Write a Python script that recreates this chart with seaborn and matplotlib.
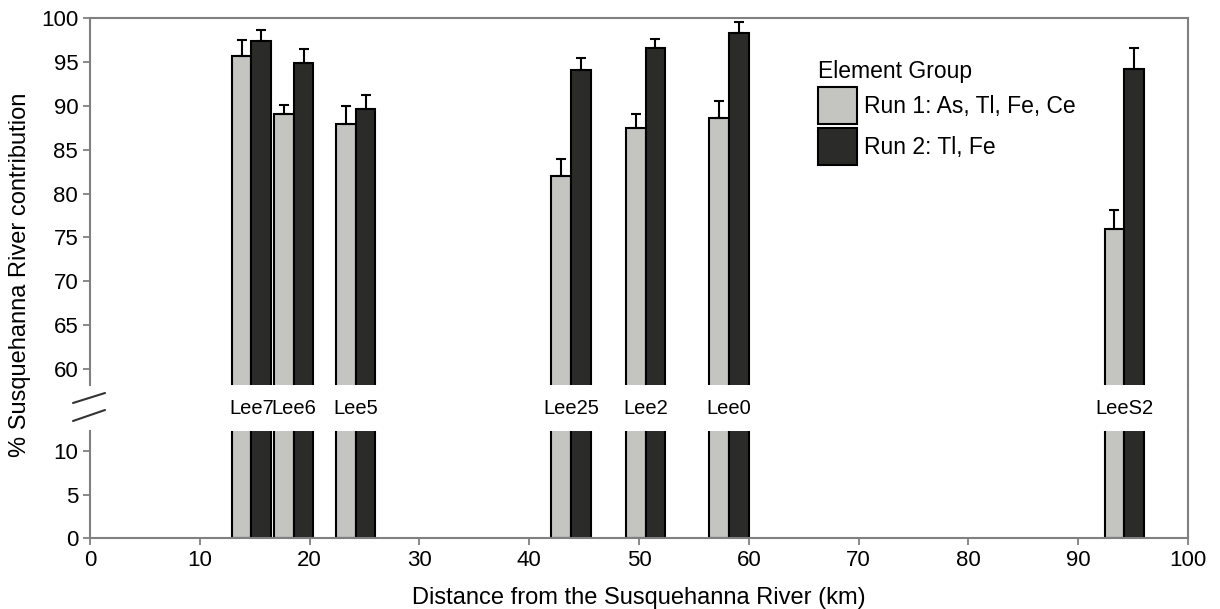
import numpy as np
import pandas as pd
import matplotlib
matplotlib.use("Agg")
import matplotlib.pyplot as plt
import matplotlib.transforms as mtransforms
from matplotlib.lines import Line2D
from matplotlib.patches import Patch
import seaborn as sns

# ---------------- data ----------------
sites = ["Lee7", "Lee6", "Lee5", "Lee25", "Lee2", "Lee0", "LeeS2"]
distance_km = [14.7, 18.55, 24.2, 43.8, 50.6, 58.2, 94.2]
run_labels = ["Run 1: As, Tl, Fe, Ce", "Run 2: Tl, Fe"]
run1_pct = [95.7, 89.1, 87.9, 82.0, 87.5, 88.6, 76.0]
run1_err = [1.8, 1.0, 2.1, 1.9, 1.6, 1.9, 2.1]
run2_pct = [97.4, 94.9, 89.6, 94.1, 96.6, 98.3, 94.2]
run2_err = [1.2, 1.6, 1.6, 1.3, 1.0, 1.3, 2.4]
x_ticks = list(range(0, 101, 10))
upper_yticks = list(range(60, 101, 5))
lower_yticks = [0, 5, 10]

sns.set_style("ticks")
plt.rcParams["font.family"] = ["Liberation Sans", "DejaVu Sans"]
plt.rcParams["text.color"] = "black"
plt.rcParams["axes.labelcolor"] = "black"

df = pd.DataFrame({
    "site": sites * 2,
    "distance": distance_km * 2,
    "run": [run_labels[0]] * len(sites) + [run_labels[1]] * len(sites),
    "pct": run1_pct + run2_pct,
    "err": run1_err + run2_err,
})

colors = ["#c4c5c0", "#2b2c2a"]
spine_col = "#808080"
W, H = 1220, 609
fig = plt.figure(figsize=(W / 100, H / 100), dpi=100)


def fr(x0, y0, x1, y1):
    return [x0 / W, 1 - y1 / H, (x1 - x0) / W, (y1 - y0) / H]


ax_up = fig.add_axes(fr(90, 18, 1188, 385))
ax_lo = fig.add_axes(fr(90, 431, 1188, 538))

for ax in (ax_up, ax_lo):
    sns.barplot(data=df, x="distance", y="pct", hue="run", hue_order=run_labels,
                palette=colors, native_scale=True, width=0.935, errorbar=None,
                edgecolor="black", linewidth=1.5, legend=False, ax=ax, zorder=2)
    for cont, lab in zip(ax.containers, run_labels):
        sub = df[df.run == lab].sort_values("distance")
        bars = sorted(cont.patches, key=lambda p: p.get_x())
        xs = [b.get_x() + b.get_width() / 2 for b in bars]
        hs = [b.get_height() for b in bars]
        ax.errorbar(xs, hs, yerr=[np.zeros(len(sub)), sub["err"].values], fmt="none",
                    ecolor="black", elinewidth=1.5, capsize=3.5, capthick=1.5, zorder=3)
    ax.set_xlim(0, 100)
    ax.set_xlabel("")
    ax.set_ylabel("")
    for s in ax.spines.values():
        s.set_color(spine_col)
        s.set_linewidth(1.5)
    ax.tick_params(axis="both", direction="out", length=5, width=1.3, color=spine_col,
                   labelsize=16, labelcolor="black")

ax_up.set_ylim(58.2, 100)
ax_up.set_yticks(upper_yticks)
ax_up.spines["bottom"].set_visible(False)
ax_up.tick_params(axis="x", bottom=False, labelbottom=False)

ax_lo.set_ylim(0, 12.3)
ax_lo.set_yticks(lower_yticks)
ax_lo.set_xticks(x_ticks)
ax_lo.spines["top"].set_visible(False)
ax_lo.set_xlabel("Distance from the Susquehanna River (km)", fontsize=17, labelpad=12,
                 color="black")

fig.text(20 / W, 1 - 275 / H, "% Susquehanna River contribution", rotation=90,
         ha="center", va="center", fontsize=17, color="black")

# site labels in the axis break
trans = mtransforms.blended_transform_factory(ax_lo.transData, ax_lo.transAxes)
for s, d in zip(sites, distance_km):
    ax_lo.text(d, (538 - 408) / 107, s, transform=trans, ha="center", va="center",
               fontsize=14.5, color="black")

# break marks and right spine continuation
fig.add_artist(Line2D([73 / W, 105 / W], [1 - 403 / H, 1 - 393 / H], color="#333333", lw=1.5))
fig.add_artist(Line2D([73 / W, 105 / W], [1 - 421 / H, 1 - 410 / H], color="#333333", lw=1.5))
fig.add_artist(Line2D([1188 / W, 1188 / W], [1 - 385 / H, 1 - 431 / H], color=spine_col, lw=1.5))

ax_up.legend(handles=[Patch(facecolor=c, edgecolor="black", linewidth=1.5) for c in colors],
             labels=run_labels, title="Element Group", loc="upper left",
             bbox_to_anchor=(818 / W, 1 - 60 / H), bbox_transform=fig.transFigure,
             frameon=False, fontsize=16.5, title_fontsize=16.5, handlelength=1.7,
             handleheight=2.11, labelspacing=0.17, handletextpad=0.3, borderpad=0,
             borderaxespad=0, alignment="left", labelcolor="black")

fig.savefig("out.png", dpi=100)
